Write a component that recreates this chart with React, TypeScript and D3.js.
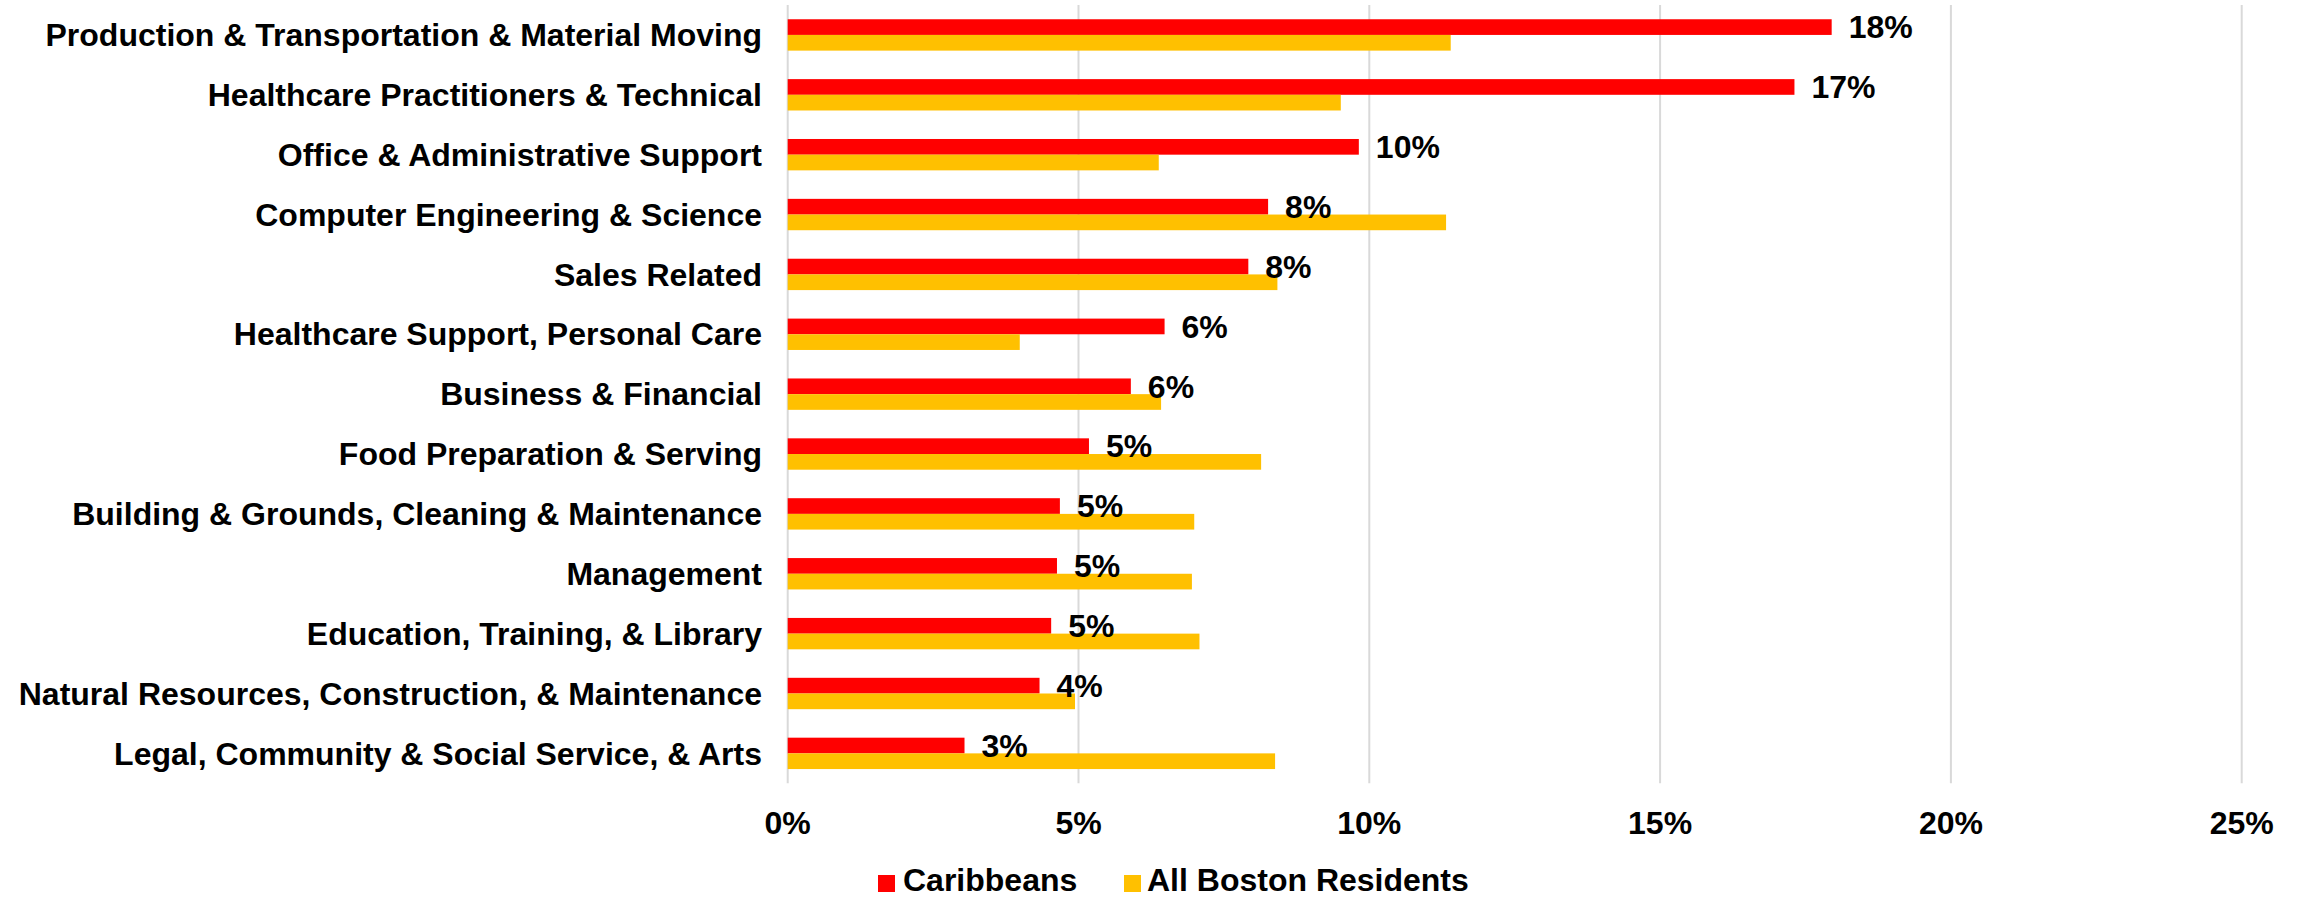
import React from "react";
import * as d3 from "d3";

const categories = [
  "Production & Transportation & Material Moving",
  "Healthcare Practitioners & Technical",
  "Office & Administrative Support",
  "Computer Engineering & Science",
  "Sales Related",
  "Healthcare Support, Personal Care",
  "Business & Financial",
  "Food Preparation & Serving",
  "Building & Grounds, Cleaning & Maintenance",
  "Management",
  "Education, Training, & Library",
  "Natural Resources, Construction, & Maintenance",
  "Legal, Community & Social Service, & Arts",
];

const caribbeans = [
  0.1795, 0.1731, 0.0982, 0.0826, 0.0792, 0.0648, 0.059, 0.0518, 0.0468, 0.0463, 0.0453, 0.0433, 0.0304,
];
const allBoston = [
  0.114, 0.0951, 0.0638, 0.1132, 0.0842, 0.0399, 0.0642, 0.0814, 0.0699, 0.0695, 0.0708, 0.0494, 0.0838,
];

const seriesNames = ["Caribbeans", "All Boston Residents"];
const seriesColors = ["#FF0000", "#FFC000"];
const xTicks = [0, 0.05, 0.1, 0.15, 0.2, 0.25];

const W = 2302;
const H = 898;
const FONT = "'Liberation Sans', Arial, Helvetica, sans-serif";

export default function App() {
  const x = d3.scaleLinear().domain([0, 0.25]).range([787.7, 2241.7]);
  const y = d3
    .scaleBand<string>()
    .domain(categories)
    .range([5, 783.3])
    .paddingInner(0.476)
    .paddingOuter(0.238);
  const sub = d3
    .scaleBand<string>()
    .domain(seriesNames)
    .range([0, y.bandwidth()])
    .padding(0);
  const pct = d3.format(".0%");
  const series = [caribbeans, allBoston];

  return (
    <svg
      width={W}
      height={H}
      style={{ position: "absolute", left: 0, top: 0, background: "#fff" }}
      fontFamily={FONT}
      fontWeight="bold"
      fontSize={32}
    >
      <rect x={0} y={0} width={W} height={H} fill="#fff" />
      {xTicks.map((t) => (
        <line
          key={"g" + t}
          x1={x(t)}
          x2={x(t)}
          y1={5}
          y2={783.3}
          stroke="#d9d9d9"
          strokeWidth={2}
        />
      ))}
      {categories.map((c, i) => (
        <g key={c}>
          {series.map((s, k) => (
            <rect
              key={k}
              x={x(0)}
              y={(y(c) as number) + (sub(seriesNames[k]) as number)}
              width={x(s[i]) - x(0)}
              height={sub.bandwidth()}
              fill={seriesColors[k]}
            />
          ))}
          <text
            x={762}
            y={(y(c) as number) + y.bandwidth() / 2}
            dy="0.35em"
            textAnchor="end"
            fill="#000"
          >
            {c}
          </text>
          <text
            x={x(caribbeans[i]) + 17}
            y={(y(c) as number) + (sub(seriesNames[0]) as number) + sub.bandwidth() / 2}
            dy="0.35em"
            fill="#000"
          >
            {pct(caribbeans[i])}
          </text>
        </g>
      ))}
      {xTicks.map((t) => (
        <text key={"t" + t} x={x(t)} y={823} dy="0.35em" textAnchor="middle" fill="#000">
          {pct(t)}
        </text>
      ))}
      <g>
        <rect x={878} y={875} width={17} height={17} fill={seriesColors[0]} />
        <text x={903} y={890.5} fill="#000">
          {seriesNames[0]}
        </text>
        <rect x={1124} y={875} width={17} height={17} fill={seriesColors[1]} />
        <text x={1147} y={890.5} fill="#000">
          {seriesNames[1]}
        </text>
      </g>
    </svg>
  );
}
